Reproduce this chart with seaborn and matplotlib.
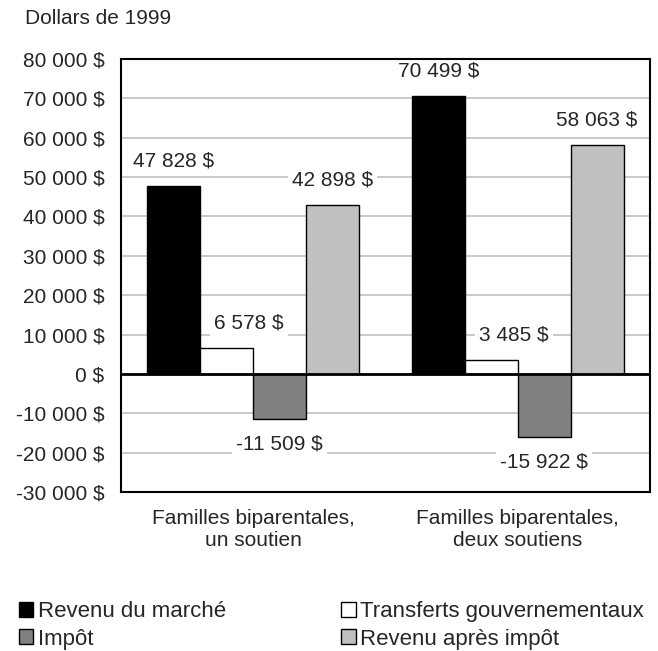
import pandas as pd
import numpy as np
import matplotlib.pyplot as plt
import seaborn as sns

# values (dollars de 1999)
familles = ['Familles biparentales,\nun soutien', 'Familles biparentales,\ndeux soutiens']
series = ['Revenu du marché', 'Transferts gouvernementaux', 'Impôt', 'Revenu après impôt']
revenu_marche = [47828, 70499]
transferts = [6578, 3485]
impot = [-11509, -15922]
revenu_apres = [42898, 58063]
couleurs = ['#000000', '#ffffff', '#808080', '#c0c0c0']
yticks = [80000, 70000, 60000, 50000, 40000, 30000, 20000, 10000, 0, -10000, -20000, -30000]
ytick_labels = ['80 000 $', '70 000 $', '60 000 $', '50 000 $', '40 000 $', '30 000 $',
                '20 000 $', '10 000 $', '0 $', '-10 000 $', '-20 000 $', '-30 000 $']

def fmt(v):
    return '{:,}'.format(v).replace(',', ' ') + ' $'

df = pd.DataFrame({
    'famille': familles * 4,
    'serie': [s for s in series for _ in familles],
    'valeur': revenu_marche + transferts + impot + revenu_apres,
})

sns.set_style('white')
plt.rcParams['font.family'] = ['Liberation Sans', 'DejaVu Sans']
fs = 15

fig = plt.figure(figsize=(6.58, 6.51), dpi=100)
ax = fig.add_axes([121 / 658, 1 - 492 / 651, 529 / 658, 433 / 651])

sns.barplot(data=df, x='famille', y='valeur', hue='serie', hue_order=series,
            palette=couleurs, edgecolor='black', linewidth=1, width=0.8,
            saturation=1, legend=False, ax=ax)

ax.set_ylim(-30000, 80000)
ax.set_xlim(-0.5, 1.5)
ax.set_yticks(yticks)
ax.set_yticklabels(ytick_labels)
ax.yaxis.grid(True, color='#c0c0c0', linewidth=1.2)
ax.set_axisbelow(True)
ax.axhline(0, color='black', linewidth=2, zorder=3)
ax.tick_params(axis='both', length=0, labelsize=fs, pad=12)
ax.tick_params(axis='x', pad=12)
ax.set_xlabel('')
ax.set_ylabel('')
for sp in ax.spines.values():
    sp.set_color('black')
    sp.set_linewidth(1.5)
    sp.set_zorder(5)

# value labels with white box over the grid
vals = [revenu_marche, transferts, impot, revenu_apres]
for k, (cont, v) in enumerate(zip(ax.containers, vals)):
    for bar, x in zip(cont, v):
        cx = bar.get_x() + bar.get_width() / 2
        dx = 16 if k == 1 else 0
        dy = 18 if x > 0 else -18
        ax.annotate(fmt(x), (cx, x), xytext=(dx, dy), textcoords='offset points',
                    ha='center', va='center', fontsize=fs, zorder=4,
                    bbox=dict(facecolor='white', edgecolor='none', pad=3))

fig.text(25 / 658, 1 - 19 / 651, 'Dollars de 1999', fontsize=fs, va='center', ha='left')

handles = [plt.Rectangle((0, 0), 1, 1, facecolor=c, edgecolor='black', linewidth=1)
           for c in couleurs]
order = [0, 2, 1, 3]
fig.legend([handles[i] for i in order], [series[i] for i in order], ncol=2,
           loc='upper left', bbox_to_anchor=(10 / 658, 1 - 592 / 651), frameon=False,
           fontsize=16, handlelength=0.65, handleheight=0.65, handletextpad=0.2,
           columnspacing=5.2, labelspacing=0.3, borderaxespad=0)

fig.savefig('out.png', dpi=100)
